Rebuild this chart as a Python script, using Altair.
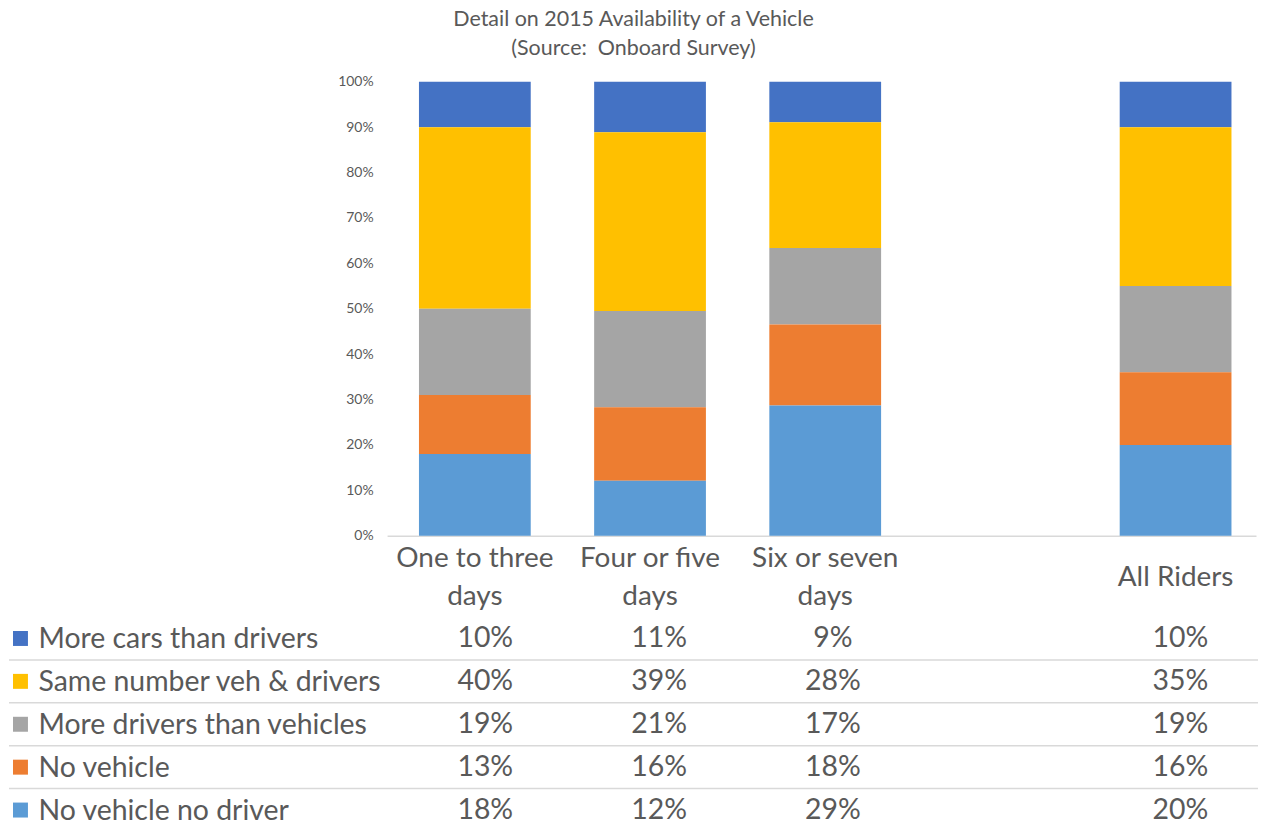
import altair as alt
import pandas as pd

# ---- data ----
categories = ["One to three\ndays", "Four or five\ndays", "Six or seven\ndays", "All Riders"]
x_domain = ["One to three\ndays", "Four or five\ndays", "Six or seven\ndays", " ", "All Riders"]
series = ["More cars than drivers", "Same number veh & drivers", "More drivers than vehicles",
          "No vehicle", "No vehicle no driver"]
colors = ["#4472C4", "#FFC000", "#A5A5A5", "#ED7D31", "#5B9BD5"]

more_cars = [10, 11, 9, 10]
same_number = [40, 39, 28, 35]
more_drivers = [19, 21, 17, 19]
no_vehicle = [13, 16, 18, 16]
no_vehicle_no_driver = [18, 12, 29, 20]

y_ticks = [0, 0.1, 0.2, 0.3, 0.4, 0.5, 0.6, 0.7, 0.8, 0.9, 1.0]

values_by_series = [more_cars, same_number, more_drivers, no_vehicle, no_vehicle_no_driver]
rows = []
for si, (s, vals) in enumerate(zip(series, values_by_series)):
    for c, v in zip(categories, vals):
        rows.append({"category": c, "series": s, "value": v,
                     "stack_order": len(series) - 1 - si, "label": f"{v}%"})
df = pd.DataFrame(rows)

FONT = "Lato"
TXT = "#595959"

color_scale = alt.Scale(domain=series, range=colors)
x_scale = alt.Scale(domain=x_domain, paddingInner=0.362, paddingOuter=0.161, align=0.565)

PLOT_W = 871

bars = alt.Chart(df).mark_bar().encode(
    x=alt.X("category:N", scale=x_scale, title=None,
            axis=alt.Axis(labelExpr="split(datum.label, '\\n')", labelFont=FONT,
                          labelFontSize=28, labelColor=TXT, labelLineHeight=38,
                          labelBaseline="middle",
                          labelPadding={"condition": {"test": "indexof(datum.value, '\\n') < 0",
                                                      "value": 42},
                                        "value": 23},
                          labelAngle=0,
                          ticks=False, tickSize=0, domainColor="#D9D9D9", domainWidth=1.5,
                          labelOverlap=False, labelLimit=0, grid=False)),
    y=alt.Y("value:Q", stack="normalize", title=None,
            scale=alt.Scale(domain=[0, 1], nice=False),
            axis=alt.Axis(values=y_ticks, format=".0%", labelFont=FONT, labelFontSize=14,
                          labelColor=TXT, labelPadding=14, ticks=False, tickSize=0,
                          domain=False, grid=False)),
    color=alt.Color("series:N", scale=color_scale, legend=None),
    order=alt.Order("stack_order:Q", sort="ascending"),
).properties(width=PLOT_W, height=455)

# ---- table ----
row_scale = alt.Scale(domain=series, type="point", padding=0.3837, align=0.6515)

sep_df = pd.DataFrame({"series": series[1:]})
separators = alt.Chart(sep_df).mark_rule(color="#D9D9D9", strokeWidth=1.5, yOffset=-21.5).encode(
    y=alt.Y("series:N", scale=row_scale),
    x=alt.value(-379),
    x2=alt.value(PLOT_W + 2),
)

sq_df = pd.DataFrame({"series": series})
squares = alt.Chart(sq_df).mark_point(shape="square", filled=True, size=225, opacity=1).encode(
    y=alt.Y("series:N", scale=row_scale, title=None,
            axis=alt.Axis(labelFont=FONT, labelFontSize=28.5, labelColor=TXT, labelAlign="left",
                          labelBaseline="middle", labelPadding=350, ticks=False, tickSize=0,
                          domain=False, grid=False, labelLimit=0)),
    x=alt.value(-367.5),
    color=alt.Color("series:N", scale=color_scale, legend=None),
)

cells = alt.Chart(df).mark_text(font=FONT, fontSize=28.5, color=TXT, baseline="middle").encode(
    x=alt.X("category:N", scale=x_scale, axis=None),
    y=alt.Y("series:N", scale=row_scale),
    text="label:N",
)

table = alt.layer(separators, squares, cells).properties(width=PLOT_W, height=205)

chart = alt.vconcat(
    bars, table, spacing=81.5, bounds="flush",
    title=alt.Title(["Detail on 2015 Availability of a Vehicle", "(Source:\u00a0 Onboard Survey)"],
                    font=FONT, fontSize=21.5, fontWeight="normal", color=TXT, anchor="middle",
                    frame="bounds", lineHeight=29, offset=15),
).properties(padding=0).configure_view(stroke=None)

chart.save("out.html", embed_options={"renderer": "svg", "actions": False})
